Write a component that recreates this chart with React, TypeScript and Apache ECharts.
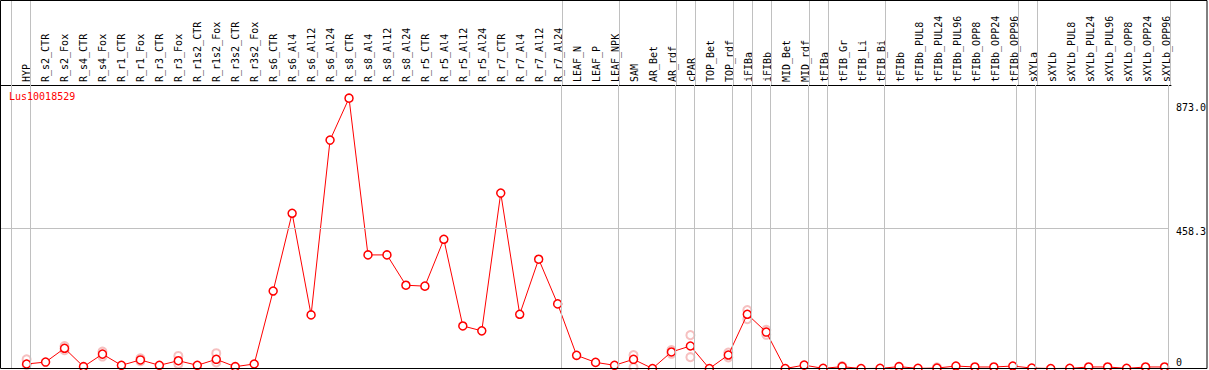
import React, { useEffect, useRef } from "react";
import * as echarts from "echarts";

const geneName = "Lus10018529";

const categories = [
  "HYP", "R_s2_CTR", "R_s2_Fox", "R_s4_CTR", "R_s4_Fox", "R_r1_CTR", "R_r1_Fox", "R_r3_CTR", "R_r3_Fox",
  "R_r1s2_CTR", "R_r1s2_Fox", "R_r3s2_CTR", "R_r3s2_Fox",
  "R_s6_CTR", "R_s6_Al4", "R_s6_Al12", "R_s6_Al24",
  "R_s8_CTR", "R_s8_Al4", "R_s8_Al12", "R_s8_Al24",
  "R_r5_CTR", "R_r5_Al4", "R_r5_Al12", "R_r5_Al24",
  "R_r7_CTR", "R_r7_Al4", "R_r7_Al12", "R_r7_Al24",
  "LEAF_N", "LEAF_P", "LEAF_NPK", "SAM", "AR_Bet", "AR_rdf", "cPAR", "TOP_Bet", "TOP_rdf",
  "iFIBa", "iFIBb", "MID_Bet", "MID_rdf", "tFIBa", "tFIB_Gr", "tFIB_Li", "tFIB_Bi", "tFIBb",
  "tFIBb_PUL8", "tFIBb_PUL24", "tFIBb_PUL96", "tFIBb_OPP8", "tFIBb_OPP24", "tFIBb_OPP96",
  "sXYLa", "sXYLb", "sXYLb_PUL8", "sXYLb_PUL24", "sXYLb_PUL96", "sXYLb_OPP8", "sXYLb_OPP24", "sXYLb_OPP96",
];

const meanValues = [
  14.7, 21, 66, 6, 47, 10.5, 28, 10.5, 25.5, 10.5, 30, 6, 14.7,
  253, 507, 175, 746, 883, 371, 371, 272, 269, 422, 139, 123, 573, 177, 357, 211,
  43, 20, 10.5, 30, 0, 54, 73.5, 0, 44, 177, 119, 0,
  11, 0.5, 6, 0, 0.5, 6, 0.5, 1.5, 8, 5, 5, 8, 1.5, 0, 0.5, 5, 5, 0.5, 5, 5,
];

const replicateA = [
  30, null, 73, null, 55, null, 33, null, 41, null, 50, null, null,
  null, null, null, null, null, null, null, null, null, null, null, null, null, null, null, null,
  null, null, null, 44, null, 60, 109, null, 52, 191, 126, null,
  null, null, 8, null, null, null, null, 4, null, null, null, null, null, null, null, null, null, null, null, null,
];

const replicateB = [
  12, null, 60, null, 39, null, 24, null, 15, null, 20, null, null,
  null, null, null, null, null, null, null, null, null, null, null, null, null, null, null, null,
  null, null, null, 4, null, 48, 37, null, 36, 161, 110, null,
  null, null, null, null, null, null, null, null, null, null, null, null, null, null, null, null, null, null, null, null,
];

// indices of the last category in each group (separator drawn just after it)
const groupEnds = [-1, 0, 28, 31, 34, 35, 37, 38, 39, 41, 42, 45, 52, 53, 60];

const yTickValues = [0, 458.3, 873.0];
const yMax = 926;

const MONO = "DejaVu Sans Mono";

export default function App() {
  const ref = useRef<HTMLDivElement>(null);

  useEffect(() => {
    if (!ref.current) return;
    const chart = echarts.init(ref.current, null, { renderer: "svg" });

    const xMin = -1.35;
    const xMax = 60.23;
    const sepOffset = 0.2;
    const catIdx = categories.map((_, i) => i);

    const sepLines = groupEnds.map((g) => ({ xAxis: g + sepOffset }));
    const markLineBase = {
      silent: true,
      symbol: ["none", "none"],
      label: { show: false },
      lineStyle: { color: "#c0c0c0", type: "solid", width: 1 },
      emphasis: { disabled: true },
    };

    const option: any = {
      animation: false,
      backgroundColor: "#ffffff",
      grid: [
        { left: 1, right: 38, top: 0, height: 85 },
        { left: 1, right: 38, top: 85, height: 283.5 },
      ],
      xAxis: [
        {
          gridIndex: 0,
          type: "value",
          min: xMin,
          max: xMax,
          position: "bottom",
          axisLine: { show: true, onZero: false, lineStyle: { color: "#000", width: 1 } },
          axisTick: { show: false },
          splitLine: { show: false },
          axisLabel: {
            inside: true,
            rotate: 90,
            margin: 3,
            customValues: catIdx,
            formatter: (v: number) => categories[Math.round(v)] ?? "",
            fontFamily: MONO,
            fontSize: 10,
            color: "#000",
          },
        },
        {
          gridIndex: 1,
          type: "value",
          min: xMin,
          max: xMax,
          show: false,
        },
      ],
      yAxis: [
        { gridIndex: 0, type: "value", min: 0, max: 1, show: false },
        {
          gridIndex: 1,
          type: "value",
          position: "right",
          min: 0,
          max: yMax,
          axisLine: { show: false },
          axisTick: { show: false },
          splitLine: { show: false },
          axisLabel: {
            customValues: yTickValues,
            margin: 7,
            fontFamily: MONO,
            fontSize: 10,
            color: "#000",
            verticalAlign: "middle",
            formatter: (v: number) => {
              if (v === 0) return "{b|0}";
              if (v > 600) return "{t|" + v.toFixed(1) + "}";
              return "{m|" + v.toFixed(1) + "}";
            },
            rich: {
              b: { fontFamily: MONO, fontSize: 10, color: "#000", padding: [0, 0, 12, 0] },
              t: { fontFamily: MONO, fontSize: 10, color: "#000", padding: [12, 0, 0, 0] },
              m: { fontFamily: MONO, fontSize: 10, color: "#000", padding: [7, 0, 0, 0] },
            },
          },
        },
      ],
      series: [
        {
          type: "line",
          xAxisIndex: 0,
          yAxisIndex: 0,
          data: [],
          silent: true,
          markLine: { ...markLineBase, data: sepLines },
        },
        {
          type: "line",
          xAxisIndex: 1,
          yAxisIndex: 1,
          data: [],
          silent: true,
          z: 0,
          markLine: { ...markLineBase, data: [...sepLines, { yAxis: yTickValues[1] }] },
        },
        {
          type: "scatter",
          xAxisIndex: 1,
          yAxisIndex: 1,
          z: 1,
          symbol: "emptyCircle",
          symbolSize: 8,
          silent: true,
          itemStyle: { color: "rgba(230,80,80,0.45)", borderColor: "rgba(230,80,80,0.45)", borderWidth: 1.5 },
          data: replicateA.map((v, i) => [i, v]).filter((d) => d[1] !== null),
        },
        {
          type: "scatter",
          xAxisIndex: 1,
          yAxisIndex: 1,
          z: 1,
          symbol: "emptyCircle",
          symbolSize: 8,
          silent: true,
          itemStyle: { color: "rgba(230,80,80,0.45)", borderColor: "rgba(230,80,80,0.45)", borderWidth: 1.5 },
          data: replicateB.map((v, i) => [i, v]).filter((d) => d[1] !== null),
        },
        {
          type: "line",
          xAxisIndex: 1,
          yAxisIndex: 1,
          z: 3,
          symbol: "circle",
          symbolSize: 8,
          showAllSymbol: true,
          clip: false,
          lineStyle: { color: "#ff0000", width: 1 },
          itemStyle: { color: "#ffffff", borderColor: "#ff0000", borderWidth: 1.5 },
          data: meanValues.map((v, i) => [i, v]),
        },
      ],
      graphic: [
        {
          type: "rect",
          silent: true,
          z: 100,
          shape: { x: 0.5, y: 0.5, width: 1206.5, height: 368 },
          style: { fill: "none", stroke: "#000", lineWidth: 1 },
        },
        {
          type: "text",
          left: 9,
          top: 91,
          z: 100,
          style: { text: geneName, fill: "#ff0000", font: "10px 'DejaVu Sans Mono'" },
        },
      ],
    };

    chart.setOption(option);
    return () => chart.dispose();
  }, []);

  return (
    <div
      ref={ref}
      style={{ position: "absolute", left: 0, top: 0, width: 1209, height: 370 }}
    />
  );
}
